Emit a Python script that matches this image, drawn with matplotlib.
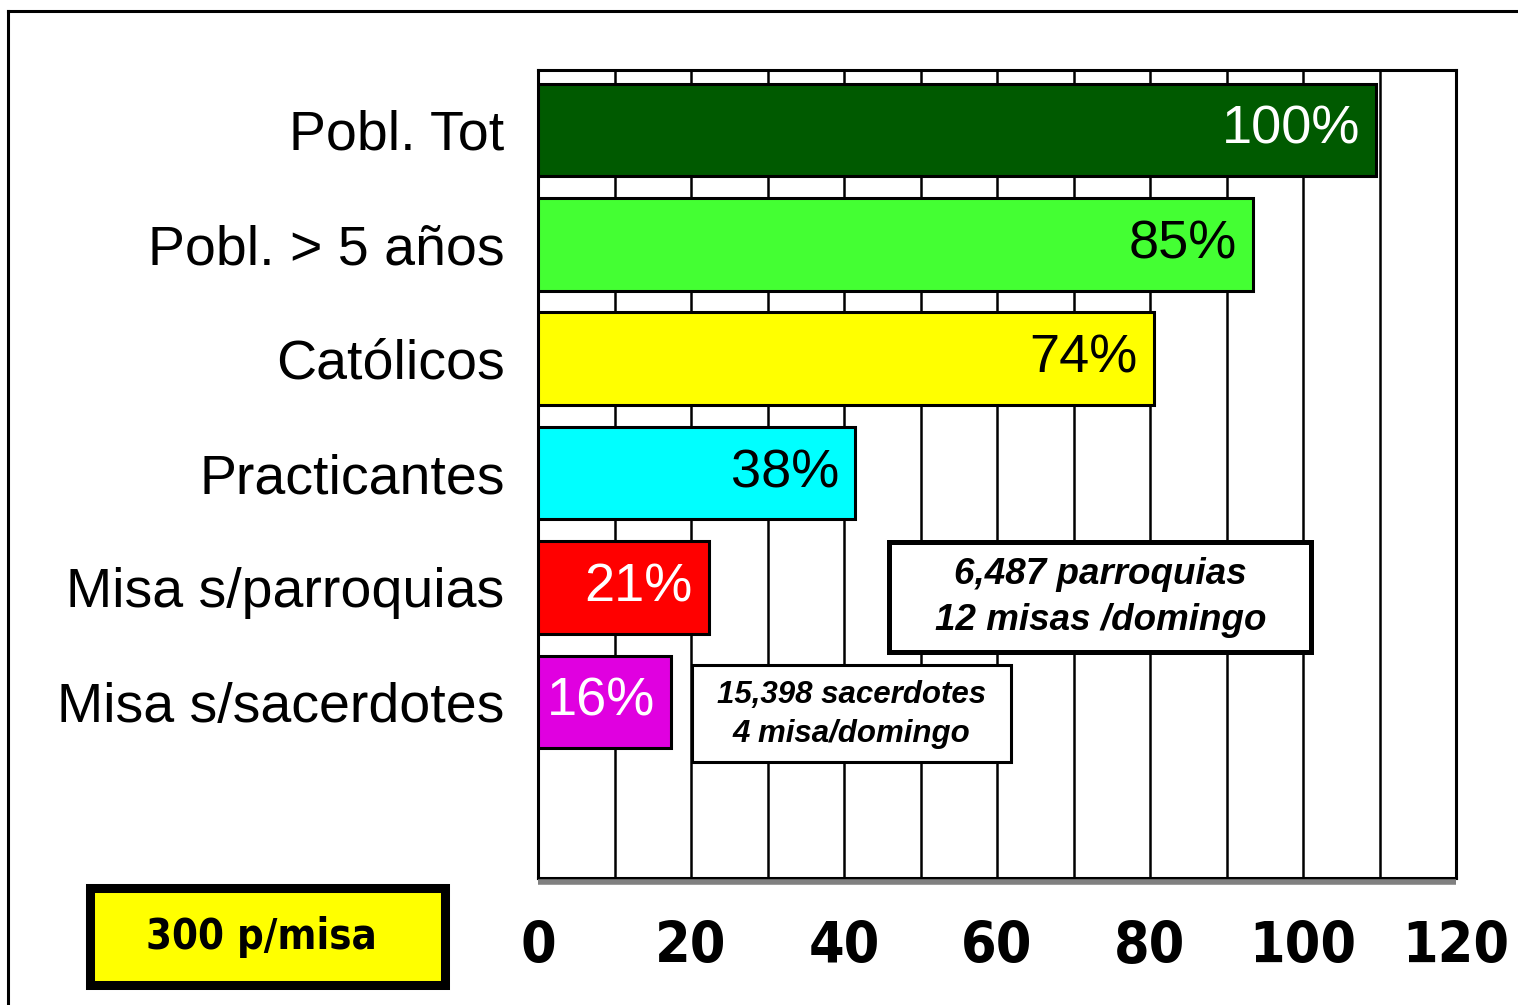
"""
Gráfico de barras horizontales — población vs. capacidad de misas dominicales
"""

import numpy as np
import matplotlib.pyplot as plt
from matplotlib import font_manager
from matplotlib.patches import Rectangle
from matplotlib.lines import Line2D

# ── Datos ────────────────────────────────────────────────────────────────────
categorias = ["Pobl. Tot", "Pobl. > 5 años", "Católicos", "Practicantes",
              "Misa s/parroquias", "Misa s/sacerdotes"]
valores    = [109.6, 93.5, 80.5, 41.5, 22.3, 17.4]
etiquetas  = ["100%", "85%", "74%", "38%", "21%", "16%"]
colores    = ["#005a00", "#44ff33", "#ffff00", "#00ffff", "#ff0000", "#e000e0"]
color_txt  = ["white", "black", "black", "black", "white", "white"]
ticks_x    = [0, 20, 40, 60, 80, 100, 120]

nota_parroquias = "6,487 parroquias\n12 misas /domingo"
nota_sacerdotes = "15,398 sacerdotes\n4 misa/domingo"
nota_misa       = "300 p/misa"

SANS = ['Liberation Sans', 'DejaVu Sans']


# ── Fuente estrecha en negrita (si existe) ───────────────────────────────────
def fuente_estrecha():
    prefer = ['LiberationSansNarrow-Bold.', 'DejaVuSansCondensed-Bold.',
              'RobotoCondensed-Bold', 'OpenSans_Condensed-Bold',
              'OpenSans-CondBold', 'Roboto_Condensed-Bold']
    files = [f.fname for f in font_manager.fontManager.ttflist]
    for p in prefer:
        for fn in files:
            if p in fn.replace(' ', ''):
                return fn
    for fn in files:
        low = fn.lower()
        if ('condensed' in low or 'narrow' in low) and 'bold' in low \
                and 'italic' not in low and 'oblique' not in low:
            return fn
    return None


FN = fuente_estrecha()


def fp_estrecha(size):
    if FN:
        return font_manager.FontProperties(fname=FN, size=size)
    # sin fuente estrecha: Liberation Sans negrita algo más pequeña
    return font_manager.FontProperties(family=SANS, weight='bold',
                                       size=size * 0.9)


# ── Figura ───────────────────────────────────────────────────────────────────
fig = plt.figure(figsize=(15.18, 10.05), dpi=100)
ax = fig.add_axes([538 / 1518, 1 - 878 / 1005, 918 / 1518, 808 / 1005])

y = np.arange(len(categorias))
ax.barh(y, valores, height=0.81, color=colores, edgecolor='black',
        linewidth=2.2, zorder=3)

for yi, v, lab, c in zip(y, valores, etiquetas, color_txt):
    ax.text(v - 2.1, yi, lab, ha='right', va='center', color=c,
            fontsize=39, family=SANS, zorder=4)

ax.set_xlim(0, 120)
ax.set_ylim(6.54, -0.524)

ax.set_xticks(ticks_x)
ax.set_xticklabels([str(t) for t in ticks_x], fontproperties=fp_estrecha(41))
ax.set_xticks(np.arange(0, 121, 10), minor=True)
ax.set_yticks(y)
ax.set_yticklabels(categorias, fontsize=40, family=SANS)
ax.tick_params(axis='both', which='both', length=0)
ax.tick_params(axis='x', pad=30)
ax.tick_params(axis='y', pad=24)

ax.grid(axis='x', which='both', color='black', linewidth=1.8, zorder=1)
ax.set_axisbelow(True)

for s in ['top', 'left', 'right', 'bottom']:
    ax.spines[s].set_linewidth(2.2)
    ax.spines[s].set_color('black')
# sombra gris bajo el eje
ax.plot([0, 1], [-0.005, -0.005], transform=ax.transAxes, color='#808080',
        linewidth=4, clip_on=False, solid_capstyle='butt', zorder=5)

# ── Cuadros de notas ─────────────────────────────────────────────────────────
ax.add_patch(Rectangle((45.9, 3.60), 55.1, 0.96, facecolor='white',
                       edgecolor='black', linewidth=3.6, zorder=6))
ax.text(73.5, 4.09, nota_parroquias, ha='center', va='center',
        fontsize=26.5, fontweight='bold', style='italic', family=SANS,
        linespacing=1.42, zorder=7)

ax.add_patch(Rectangle((20.1, 4.68), 41.7, 0.85, facecolor='white',
                       edgecolor='black', linewidth=2.2, zorder=6))
ax.text(41.0, 5.11, nota_sacerdotes, ha='center', va='center',
        fontsize=22.5, fontweight='bold', style='italic', family=SANS,
        linespacing=1.4, zorder=7)

fig.add_artist(Rectangle((89.5 / 1518, 1 - 984.5 / 1005), 355 / 1518,
                         97 / 1005, transform=fig.transFigure,
                         facecolor='#ffff00', edgecolor='black',
                         linewidth=6.5))
fig.text(261.5 / 1518, 1 - 937 / 1005, nota_misa, ha='center', va='center',
         fontproperties=fp_estrecha(30))

# ── Marco exterior (arriba e izquierda) ─────────────────────────────────────
fig.add_artist(Line2D([8 / 1518, 1], [1 - 11.5 / 1005, 1 - 11.5 / 1005],
                      color='black', linewidth=2.2, transform=fig.transFigure))
fig.add_artist(Line2D([8 / 1518, 8 / 1518], [0, 1 - 11.5 / 1005],
                      color='black', linewidth=2.2, transform=fig.transFigure))

fig.savefig("out.png", dpi=100)
